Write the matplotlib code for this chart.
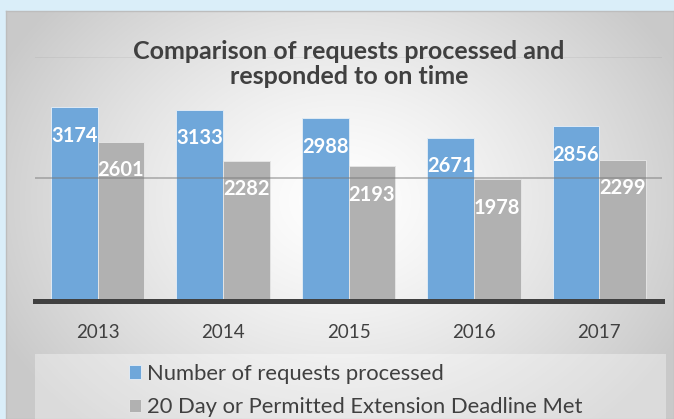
import matplotlib
matplotlib.use('Agg')
import matplotlib.pyplot as plt
import numpy as np
from matplotlib.patches import Rectangle

# Daten
years = ['2013', '2014', '2015', '2016', '2017']
processed = [3174, 3133, 2988, 2671, 2856]
deadline_met = [2601, 2282, 2193, 1978, 2299]
series_names = ['Number of requests processed',
                '20 Day or Permitted Extension Deadline Met']

blue = '#6fa7da'
grey = '#b1b1b1'
text_col = '#404040'

plt.rcParams['font.family'] = ['Lato', 'DejaVu Sans']

W, H = 674, 419
fig = plt.figure(figsize=(W / 100, H / 100), dpi=100)
fig.patch.set_facecolor('#daeef9')

# Hintergrund mit radialem Verlauf
bg = fig.add_axes([6 / W, 0, (W - 6) / W, (H - 11) / H])
yy, xx = np.mgrid[0:H - 11, 0:W - 6]
r = np.sqrt(((xx - 334) / 380.0) ** 2 + ((yy - 190) / 300.0) ** 2)
t = np.clip(r, 0, 1)
val = 1 - 0.21 * t ** 1.3
bg.imshow(np.dstack([val, val, val]), aspect='auto', interpolation='bilinear')
bg.set_xticks([])
bg.set_yticks([])
for s in bg.spines.values():
    s.set_color('#bdbdbd')
    s.set_linewidth(1)

# Legendenbereich
fig.patches.append(Rectangle((35 / W, 0), (666 - 35) / W, (H - 354) / H,
                             transform=fig.transFigure, facecolor='white',
                             alpha=0.35, edgecolor='none', zorder=1))

ax = fig.add_axes([35 / W, 120.5 / H, 627 / W, 241 / H])
ax.set_facecolor('none')
for side in ['left', 'right', 'top']:
    ax.spines[side].set_visible(False)
ax.spines['bottom'].set_position(('outward', 1.7))
ax.spines['bottom'].set_color('#404040')
ax.spines['bottom'].set_linewidth(3.6)
ax.spines['bottom'].set_zorder(4)

x = np.arange(len(years))
w = 0.372
b1 = ax.bar(x - w / 2, processed, w, color=blue, edgecolor='#dfeaf4', linewidth=0.7, zorder=2)
b2 = ax.bar(x + w / 2, deadline_met, w, color=grey, edgecolor='#e4e4e4', linewidth=0.7, zorder=2)

ax.set_xlim(-0.5, len(years) - 0.5)
ax.set_ylim(0, 4000)
ax.set_yticks([2000, 4000])
ax.yaxis.grid(True, color='#7a7a7a', linewidth=1.1, alpha=0.6, zorder=3)
ax.set_axisbelow(False)
ax.tick_params(axis='y', left=False, labelleft=False)
ax.set_xticks(x)
ax.set_xticklabels(years)
ax.tick_params(axis='x', length=0, pad=16.5, labelsize=13.5, labelcolor=text_col)
ax.get_ygridlines()[1].set_alpha(0.15)

for bars, vals in [(b1, processed), (b2, deadline_met)]:
    for rect, v in zip(bars, vals):
        ax.annotate(str(v), (rect.get_x() + rect.get_width() / 2, v),
                    xytext=(0, -20.5), textcoords='offset points',
                    ha='center', va='center', color='white',
                    fontsize=14.5, fontweight='bold', zorder=5)

fig.text(349 / W, 1 - 64 / H, 'Comparison of requests processed and\nresponded to on time',
         ha='center', va='center', fontsize=18, fontweight='bold', color=text_col,
         linespacing=1.15)

handles = [Rectangle((0, 0), 1, 1, facecolor=blue, edgecolor='#dfeaf4', linewidth=0.7),
           Rectangle((0, 0), 1, 1, facecolor=grey, edgecolor='#e4e4e4', linewidth=0.7)]
fig.legend(handles, series_names, loc='upper left', bbox_to_anchor=(109 / W, 1 - 344 / H),
           frameon=False, fontsize=15.8, labelcolor=text_col, handlelength=0.55,
           handleheight=0.55, handletextpad=0.3, labelspacing=0.6)

fig.savefig('out.png', dpi=100, facecolor=fig.get_facecolor())
